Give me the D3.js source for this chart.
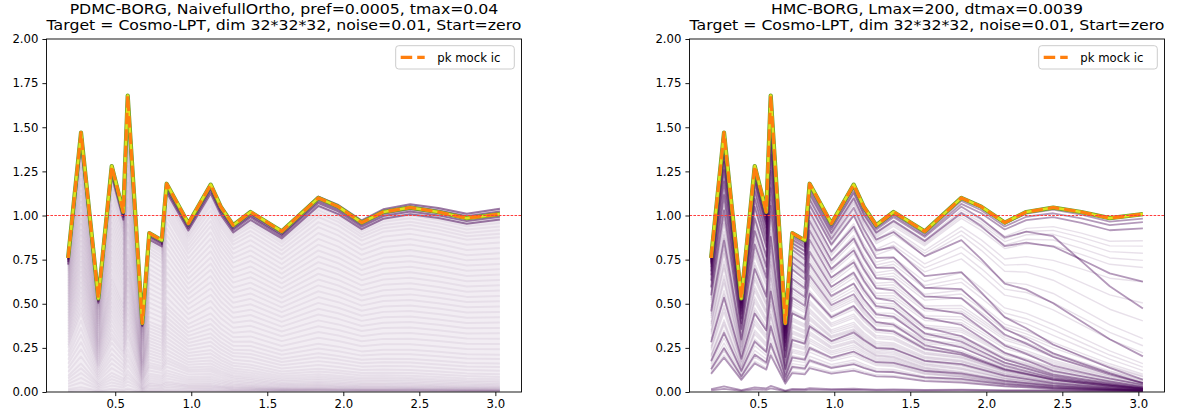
<!DOCTYPE html>
<html>
<head>
<meta charset="utf-8">
<script src="https://cdn.jsdelivr.net/npm/d3@7"></script>
<style>
  html, body { margin: 0; padding: 0; background: #fff; }
  svg { display: block; }
  text { font-family: "DejaVu Sans", sans-serif; fill: #000; }
</style>
</head>
<body>
<svg id="fig" width="1180" height="420"></svg>
<script>
// ---- data -------------------------------------------------------------
// k bins of the power spectrum ratio
const kValues = [0.19, 0.275, 0.389, 0.477, 0.553, 0.582, 0.678, 0.724, 0.806, 0.838,
                 0.981, 1.128, 1.194, 1.276, 1.39, 1.595, 1.836, 1.967, 2.121, 2.263,
                 2.44, 2.625, 2.812, 3.03];
// P(k) ratio of the mock initial conditions
const pkMock = [0.76, 1.47, 0.53, 1.28, 1.02, 1.68, 0.39, 0.90, 0.86, 1.18,
                0.955, 1.175, 1.05, 0.945, 1.02, 0.91, 1.10, 1.05, 0.96, 1.02,
                1.045, 1.02, 0.985, 1.008];

// PDMC chain: sample spectra as fraction of the mock, given at a few k anchors
const pdmcAnchors = [0.19, 0.68, 1.5, 3.03];
const pdmcAtK019 = [0.0,0.01,0.02,0.04,0.06,0.08,0.10,0.12,0.15,0.18,0.21,0.24,0.27,0.30,0.33,0.35,0.37,0.39,0.41,0.43,
                    0.45,0.47,0.49,0.51,0.53,0.55,0.57,0.59,0.61,0.63,0.65,0.67,0.69,0.71,0.73,0.75,0.77,0.79,0.81,0.83,
                    0.85,0.87,0.89,0.905,0.92,0.935,0.945,0.955,0.965,0.972,0.978,0.984,0.988,0.991,0.994,0.996,0.998,1.0,1.0,1.0];
const pdmcAtK068 = [0.0,0.005,0.01,0.02,0.03,0.04,0.05,0.06,0.075,0.09,0.105,0.12,0.14,0.16,0.175,0.19,0.21,0.23,0.25,0.27,
                    0.29,0.31,0.33,0.35,0.37,0.39,0.41,0.43,0.45,0.48,0.51,0.54,0.57,0.6,0.63,0.66,0.69,0.72,0.75,0.78,
                    0.81,0.84,0.87,0.89,0.91,0.93,0.945,0.955,0.965,0.972,0.978,0.984,0.988,0.991,0.994,0.996,0.998,1.0,1.0,1.0];
const pdmcAtK150 = [0.004,0.006,0.008,0.010,0.012,0.014,0.016,0.019,0.022,0.026,0.031,0.037,0.043,0.05,0.058,0.067,0.077,0.088,0.10,0.115,
                    0.13,0.15,0.17,0.19,0.21,0.235,0.26,0.29,0.32,0.35,0.38,0.41,0.44,0.47,0.50,0.53,0.56,0.59,0.62,0.65,
                    0.68,0.71,0.74,0.77,0.80,0.83,0.86,0.885,0.91,0.93,0.945,0.96,0.97,0.98,0.985,0.99,0.995,1.0,1.0,1.0];
const pdmcAtK303 = [0.003,0.004,0.005,0.006,0.007,0.008,0.009,0.010,0.012,0.014,0.016,0.019,0.022,0.026,0.031,0.037,0.044,0.052,0.061,0.072,
                    0.085,0.10,0.12,0.14,0.16,0.185,0.21,0.24,0.27,0.30,0.33,0.36,0.39,0.42,0.45,0.48,0.51,0.54,0.57,0.60,
                    0.63,0.66,0.69,0.72,0.75,0.78,0.81,0.84,0.87,0.89,0.91,0.93,0.95,0.965,0.98,0.99,1.0,1.01,1.02,1.03];
// late PDMC samples, packed just under the mock
const pdmcLate = [
  [1.00, 1.00, 1.00, 1.03], [0.995, 0.995, 0.99, 1.015], [0.985, 0.985, 0.98, 1.0],
  [0.97, 0.975, 0.97, 0.985], [0.95, 0.96, 0.955, 0.97]
];

// HMC chain: sample spectra as fraction of the mock at k anchors
const hmcAnchors = [0.19, 0.7, 1.2, 1.8, 2.4, 3.03];
const hmcStrong = [
  [1.00,1.00,1.00,0.995,0.99,0.975], [1.00,0.995,0.99,0.985,0.97,0.955],
  [0.995,0.99,0.985,0.97,0.95,0.92], [0.99,0.985,0.975,0.96,0.87,0.47],
  [0.985,0.975,0.96,0.93,0.8,0.62], [0.98,0.96,0.93,0.8,0.5,0.2],
  [0.97,0.94,0.88,0.64,0.27,0.07], [0.96,0.92,0.84,0.55,0.22,0.05],
  [0.95,0.9,0.78,0.5,0.2,0.05], [0.93,0.86,0.72,0.42,0.15,0.04],
  [0.9,0.82,0.66,0.36,0.12,0.03], [0.87,0.78,0.6,0.3,0.1,0.025],
  [0.83,0.72,0.55,0.27,0.09,0.02], [0.78,0.66,0.5,0.24,0.08,0.02],
  [0.72,0.6,0.45,0.21,0.07,0.018], [0.6,0.5,0.4,0.2,0.07,0.018],
  [0.37,0.33,0.28,0.15,0.05,0.014], [0.23,0.22,0.19,0.1,0.035,0.01],
  [0.17,0.16,0.13,0.07,0.025,0.008], [0.135,0.12,0.1,0.05,0.018,0.006],
  [0.022,0.02,0.015,0.012,0.01,0.008], [0.012,0.012,0.01,0.008,0.006,0.005]
];
const hmcFaint = [
  [0.98,0.97,0.96,0.94,0.9,0.85], [0.975,0.965,0.955,0.93,0.88,0.82], [0.97,0.96,0.95,0.92,0.86,0.78],
  [0.965,0.95,0.94,0.91,0.83,0.74], [0.97,0.95,0.93,0.9,0.8,0.7], [0.96,0.94,0.92,0.86,0.72,0.62],
  [0.955,0.94,0.91,0.84,0.67,0.5], [0.95,0.93,0.9,0.82,0.62,0.4], [0.94,0.92,0.87,0.76,0.55,0.3],
  [0.935,0.91,0.855,0.73,0.5,0.26], [0.93,0.9,0.84,0.7,0.46,0.22], [0.92,0.88,0.8,0.63,0.38,0.16],
  [0.915,0.87,0.785,0.6,0.35,0.14], [0.91,0.86,0.77,0.58,0.32,0.12], [0.9,0.84,0.74,0.54,0.28,0.1],
  [0.895,0.83,0.725,0.52,0.265,0.09], [0.88,0.82,0.71,0.5,0.25,0.085], [0.87,0.8,0.68,0.46,0.22,0.07],
  [0.86,0.79,0.665,0.445,0.21,0.065], [0.85,0.78,0.65,0.43,0.2,0.06], [0.83,0.75,0.62,0.4,0.18,0.055],
  [0.82,0.735,0.605,0.385,0.17,0.052], [0.81,0.72,0.59,0.37,0.16,0.05], [0.79,0.7,0.56,0.34,0.14,0.045],
  [0.78,0.685,0.545,0.33,0.135,0.042], [0.77,0.67,0.53,0.32,0.13,0.04], [0.75,0.64,0.5,0.3,0.12,0.035],
  [0.735,0.625,0.485,0.29,0.115,0.032], [0.72,0.61,0.47,0.28,0.11,0.03], [0.7,0.58,0.44,0.26,0.1,0.028],
  [0.685,0.565,0.43,0.25,0.095,0.026], [0.67,0.55,0.42,0.24,0.09,0.025], [0.64,0.52,0.4,0.22,0.08,0.022],
  [0.625,0.51,0.39,0.21,0.078,0.021], [0.61,0.5,0.38,0.2,0.075,0.02], [0.58,0.47,0.36,0.19,0.07,0.018],
  [0.565,0.46,0.35,0.185,0.068,0.017], [0.55,0.45,0.34,0.18,0.065,0.016], [0.52,0.43,0.32,0.17,0.06,0.015],
  [0.505,0.42,0.31,0.165,0.058,0.015], [0.49,0.41,0.3,0.16,0.055,0.014], [0.46,0.39,0.29,0.15,0.05,0.013],
  [0.445,0.38,0.285,0.145,0.048,0.012], [0.43,0.37,0.28,0.14,0.045,0.012], [0.4,0.35,0.27,0.13,0.042,0.011],
  [0.385,0.34,0.26,0.125,0.041,0.011], [0.37,0.33,0.25,0.12,0.04,0.01], [0.34,0.31,0.24,0.11,0.037,0.01],
  [0.325,0.3,0.235,0.105,0.036,0.01], [0.31,0.29,0.23,0.1,0.034,0.009], [0.28,0.27,0.22,0.095,0.031,0.009],
  [0.27,0.26,0.21,0.092,0.03,0.009], [0.26,0.25,0.2,0.09,0.028,0.008], [0.24,0.23,0.19,0.085,0.026,0.008],
  [0.225,0.215,0.18,0.082,0.025,0.008], [0.21,0.2,0.17,0.08,0.024,0.007], [0.19,0.18,0.15,0.07,0.022,0.007],
  [0.175,0.165,0.14,0.065,0.021,0.007], [0.16,0.15,0.13,0.06,0.02,0.006], [0.145,0.13,0.11,0.055,0.018,0.006]
];

const xTicks = [0.5, 1.0, 1.5, 2.0, 2.5, 3.0];
const yTicks = [0, 0.25, 0.5, 0.75, 1.0, 1.25, 1.5, 1.75, 2.0];
const referenceLevel = 1.0;
const legendLabel = "pk mock ic";
const titles = [
  ["PDMC-BORG, NaivefullOrtho, pref=0.0005, tmax=0.04",
   "Target = Cosmo-LPT, dim 32*32*32, noise=0.01, Start=zero"],
  ["HMC-BORG, Lmax=200, dtmax=0.0039",
   "Target = Cosmo-LPT, dim 32*32*32, noise=0.01, Start=zero"]
];

// ---- layout -----------------------------------------------------------
const svg = d3.select("#fig");
const plotW = 475, plotTop = 39, plotBottom = 392;
const panelLefts = [46.5, 689.5];
const sampleColor = "#440154";

const kExtent = d3.extent(kValues);
const kPad = 0.05 * (kExtent[1] - kExtent[0]);

// turn anchor fractions into a full sample spectrum
function sampleCurve(anchors, fracs) {
  const f = d3.scaleLinear().domain(anchors).range(fracs).clamp(true);
  return kValues.map((k, j) => [k, pkMock[j] * f(k)]);
}

function drawPanel(idx, groups, cloud) {
  const left = panelLefts[idx];
  const x = d3.scaleLinear().domain([kExtent[0] - kPad, kExtent[1] + kPad]).range([left, left + plotW]);
  const y = d3.scaleLinear().domain([0, 2]).range([plotBottom, plotTop]);
  const g = svg.append("g");

  const clipId = "clip" + idx;
  svg.append("clipPath").attr("id", clipId)
    .append("rect").attr("x", left).attr("y", plotTop)
    .attr("width", plotW).attr("height", plotBottom - plotTop);

  const line = d3.line().x(d => x(d[0])).y(d => y(d[1]));
  const plot = g.append("g").attr("clip-path", `url(#${clipId})`);

  // faint wash over the whole spread of a dense sample cloud
  if (cloud) {
    const lo = cloud[0], hi = cloud[cloud.length - 1];
    const area = d3.area().x(d => x(d[0])).y0((d, j) => y(lo[j][1])).y1(d => y(d[1]));
    plot.append("path").attr("d", area(hi))
      .attr("fill", sampleColor).attr("fill-opacity", 0.07);
  }

  groups.forEach(grp => {
    plot.append("g")
      .selectAll("path").data(grp.curves).join("path")
      .attr("d", line)
      .attr("fill", "none")
      .attr("stroke", sampleColor)
      .attr("stroke-width", grp.width)
      .attr("stroke-opacity", grp.opacity)
      .attr("stroke-linejoin", "round");
  });

  // mock spectrum: final samples underneath, dashed reference on top
  const mock = kValues.map((k, j) => [k, pkMock[j]]);
  plot.append("path").attr("d", line(mock)).attr("fill", "none")
    .attr("stroke", "#6f9f2a").attr("stroke-width", 4.2).attr("stroke-linejoin", "round");
  plot.append("path").attr("d", line(mock)).attr("fill", "none")
    .attr("stroke", "#dde31c").attr("stroke-width", 2.6).attr("stroke-linejoin", "round");
  plot.append("path").attr("d", line(mock)).attr("fill", "none")
    .attr("stroke", "#ff7f0e").attr("stroke-width", 3.1)
    .attr("stroke-dasharray", "11.5,5").attr("stroke-linejoin", "round");

  // horizontal reference at 1
  g.append("line")
    .attr("x1", left).attr("x2", left + plotW)
    .attr("y1", y(referenceLevel)).attr("y2", y(referenceLevel))
    .attr("stroke", "#ff3c3c")
    .attr("stroke-width", 1).attr("stroke-dasharray", "2.6,1.3");

  // axes
  const xAxis = d3.axisBottom(x).tickValues(xTicks).tickFormat(d3.format(".1f"))
    .tickSize(4.1).tickSizeOuter(0).tickPadding(4);
  const yAxis = d3.axisLeft(y).tickValues(yTicks).tickFormat(d3.format(".2f"))
    .tickSize(4.1).tickSizeOuter(0).tickPadding(4);
  const gx = g.append("g").attr("transform", `translate(0,${plotBottom})`).call(xAxis);
  const gy = g.append("g").attr("transform", `translate(${left},0)`).call(yAxis);
  [gx, gy].forEach(a => {
    a.select(".domain").remove();
    a.selectAll("line").attr("stroke", "#000").attr("stroke-width", 0.9);
    a.selectAll("text").attr("font-family", "DejaVu Sans").attr("font-size", 11.7).attr("fill", "#000");
  });

  // frame
  g.append("rect").attr("x", left).attr("y", plotTop)
    .attr("width", plotW).attr("height", plotBottom - plotTop)
    .attr("fill", "none").attr("stroke", "#000").attr("stroke-width", 0.9);

  // two-line title, slightly widened glyphs
  const cx = left + plotW / 2;
  titles[idx].forEach((t, i) => {
    g.append("text")
      .attr("transform", `translate(${cx},${13.8 + i * 16.5}) scale(1.124,1)`)
      .attr("text-anchor", "middle").attr("font-size", 14).text(t);
  });

  // legend
  const lw = 118.6, lh = 23.3;
  const lx = left + plotW - 7.2 - lw, ly = plotTop + 6.7;
  g.append("rect").attr("x", lx).attr("y", ly).attr("width", lw).attr("height", lh)
    .attr("rx", 3).attr("fill", "#fff").attr("fill-opacity", 0.8)
    .attr("stroke", "#cccccc").attr("stroke-width", 1);
  g.append("line").attr("x1", lx + 5).attr("x2", lx + 29)
    .attr("y1", ly + lh / 2).attr("y2", ly + lh / 2)
    .attr("stroke", "#ff7f0e").attr("stroke-width", 3.1).attr("stroke-dasharray", "11.5,5");
  g.append("text").attr("x", lx + 41.6).attr("y", ly + lh / 2 + 4.2)
    .attr("font-size", 11.7).text(legendLabel);
}

// PDMC samples: rows assembled from the anchor columns
const pdmcCloud = pdmcAtK019.map((_, i) =>
  sampleCurve(pdmcAnchors, [pdmcAtK019[i], pdmcAtK068[i], pdmcAtK150[i], pdmcAtK303[i]]));
drawPanel(0, [
  { curves: pdmcCloud, width: 2, opacity: 0.06 },
  { curves: pdmcLate.map(r => sampleCurve(pdmcAnchors, r)), width: 2, opacity: 0.5 }
], pdmcCloud);
drawPanel(1, [
  { curves: hmcFaint.map(r => sampleCurve(hmcAnchors, r)), width: 1.4, opacity: 0.12 },
  { curves: hmcStrong.map(r => sampleCurve(hmcAnchors, r)), width: 1.8, opacity: 0.4 }
]);
</script>
</body>
</html>
